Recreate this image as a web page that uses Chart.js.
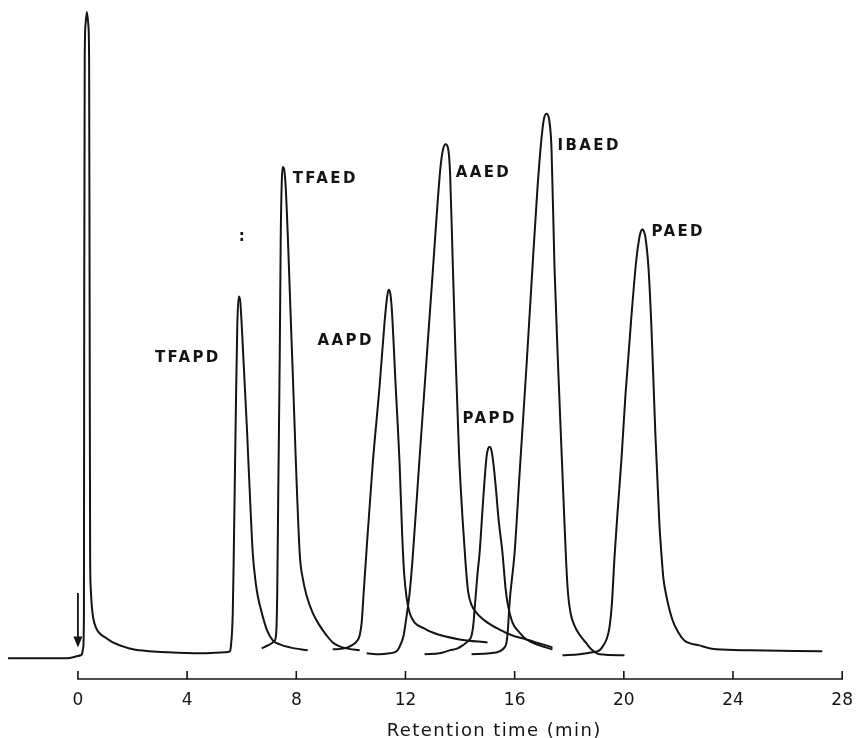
<!DOCTYPE html>
<html>
<head>
<meta charset="utf-8">
<title>Chromatogram</title>
<script src="https://cdn.jsdelivr.net/npm/chart.js@4.4.1/dist/chart.umd.min.js"></script>
<style>
  html, body { margin: 0; padding: 0; background: #fff; }
  #wrap { width: 856px; height: 738px; }
</style>
</head>
<body>
<div id="wrap"><canvas id="chromChart" width="856" height="738"></canvas></div>
<script>
// retention time axis (min)
const tickValues = [0, 4, 8, 12, 16, 20, 24, 28];
const peakNames = ['TFAPD', 'TFAED', 'AAPD', 'AAED', 'PAPD', 'IBAED', 'PAED'];

// recorder traces: [time (min), response (arb. units)]
const traceSolventTFAPD = [
  [-2.56, 2.1], [-1.39, 2.1], [-0.40, 2.1], [-0.04, 2.3], [0.10, 2.4], [0.146, 2.5],
  [0.194, 3.2], [0.220, 6.7], [0.231, 38.7], [0.249, 62.7], [0.278, 66.2], [0.329, 67.5],
  [0.381, 66.2], [0.410, 62.7], [0.428, 38.7], [0.447, 12.7], [0.469, 9.2], [0.505, 7.5],
  [0.559, 6.2], [0.659, 5.2], [0.805, 4.6], [1.061, 4.1], [1.281, 3.7], [1.647, 3.3],
  [2.013, 3.0], [2.635, 2.8], [3.258, 2.7], [4.466, 2.6], [5.381, 2.7], [5.564, 2.8],
  [5.600, 3.2], [5.673, 6.7], [5.710, 12.7], [5.783, 26.7], [5.838, 35.7], [5.893, 38.7],
  [5.948, 38.2], [6.003, 35.7], [6.186, 25.7], [6.332, 16.7], [6.406, 12.7], [6.515, 9.7],
  [6.589, 8.4], [6.735, 6.7], [6.918, 5.0], [7.138, 3.9], [7.394, 3.5], [7.760, 3.2],
  [8.419, 2.9]
];
const traceTFAED = [
  [6.735, 3.1], [6.955, 3.4], [7.138, 3.7], [7.211, 3.9], [7.266, 4.7], [7.302, 8.7],
  [7.339, 18.7], [7.394, 32.7], [7.430, 44.7], [7.467, 50.2], [7.504, 51.8], [7.559, 51.5],
  [7.614, 49.7], [7.833, 33.8], [8.126, 12.7], [8.236, 10.2], [8.382, 8.4], [8.602, 6.7],
  [8.858, 5.4], [9.114, 4.4], [9.334, 3.7], [9.590, 3.3], [9.846, 3.1], [10.322, 2.9]
];
const traceAAPD = [
  [9.334, 3.0], [9.773, 3.1], [10.029, 3.4], [10.212, 3.8], [10.322, 4.4], [10.395, 5.7],
  [10.468, 8.7], [10.578, 13.2], [10.798, 21.7], [11.054, 29.7], [11.237, 36.2], [11.329, 38.7],
  [11.384, 39.4], [11.439, 39.1], [11.493, 37.7], [11.640, 29.7], [11.786, 21.7], [11.878, 14.7],
  [11.951, 10.7], [12.043, 8.2], [12.152, 6.7], [12.335, 5.7], [12.701, 5.1], [12.994, 4.7],
  [13.982, 4.0], [15.007, 3.7]
];
const traceAAED = [
  [10.578, 2.6], [11.054, 2.5], [11.420, 2.6], [11.676, 2.8], [11.823, 3.5], [11.932, 4.4],
  [12.006, 5.7], [12.152, 8.7], [12.262, 12.2], [12.500, 21.7], [12.756, 31.7], [13.013, 41.7],
  [13.177, 48.2], [13.287, 51.9], [13.378, 53.6], [13.470, 54.1], [13.561, 53.7], [13.635, 51.2],
  [13.726, 42.7], [13.836, 32.7], [13.964, 22.7], [14.092, 16.2], [14.202, 11.7], [14.293, 8.9],
  [14.422, 7.5], [14.605, 6.7], [15.007, 5.7], [15.447, 5.0], [15.922, 4.4], [16.435, 4.0],
  [16.911, 3.6], [17.387, 3.2]
];
const tracePAPD = [
  [12.701, 2.5], [13.250, 2.6], [13.616, 2.9], [13.909, 3.1], [14.092, 3.4], [14.275, 3.8],
  [14.422, 4.4], [14.495, 5.7], [14.531, 7.0], [14.641, 10.7], [14.714, 12.7], [14.861, 18.7],
  [14.971, 22.5], [15.026, 23.3], [15.081, 23.5], [15.135, 23.3], [15.190, 22.5], [15.300, 19.7],
  [15.410, 16.2], [15.556, 12.7], [15.666, 9.2], [15.739, 7.7], [15.922, 5.7], [16.179, 4.7],
  [16.435, 4.0], [16.911, 3.4], [17.387, 3.0]
];
const traceIBAED = [
  [14.422, 2.5], [15.081, 2.6], [15.447, 2.8], [15.630, 3.2], [15.703, 3.7], [15.758, 5.2],
  [15.813, 7.7], [15.996, 12.7], [16.179, 20.7], [16.435, 31.7], [16.654, 41.7], [16.837, 49.7],
  [16.984, 54.7], [17.075, 56.7], [17.167, 57.2], [17.258, 56.7], [17.350, 53.7], [17.460, 41.7],
  [17.606, 30.7], [17.753, 20.7], [17.881, 12.2], [17.954, 8.7], [18.046, 6.7], [18.192, 5.4],
  [18.375, 4.5], [18.631, 3.6], [18.851, 2.9], [19.107, 2.5], [20.022, 2.4]
];
const tracePAED = [
  [17.753, 2.4], [18.375, 2.5], [18.851, 2.7], [19.107, 2.9], [19.253, 3.4], [19.363, 4.0],
  [19.473, 5.2], [19.565, 7.7], [19.656, 12.2], [19.766, 16.7], [19.912, 22.2], [20.059, 28.7],
  [20.278, 36.7], [20.461, 42.5], [20.571, 44.7], [20.626, 45.3], [20.681, 45.5], [20.736, 45.3],
  [20.791, 44.7], [20.901, 41.7], [21.010, 35.7], [21.157, 24.7], [21.303, 15.7], [21.376, 12.7],
  [21.449, 10.2], [21.559, 8.4], [21.779, 6.0], [21.998, 4.7], [22.218, 3.9], [22.767, 3.4],
  [23.389, 3.0], [24.597, 2.9], [27.269, 2.8]
];

const ink = '#141414';

// where each peak name sits (left edge, middle), in axis units
const labelSpots = [[2.82, 32.5], [7.87, 50.6], [8.78, 34.2], [13.84, 51.2], [14.09, 26.3], [17.57, 53.9], [21.01, 45.2]];

const recorderMarks = {
  id: 'recorderMarks',
  afterDraw(chart) {
    const { ctx, chartArea, scales: { x, y } } = chart;
    const base = chartArea.bottom;
    ctx.save();
    ctx.strokeStyle = ink;
    ctx.fillStyle = ink;

    // time axis with upward ticks
    ctx.lineWidth = 1.6;
    ctx.beginPath();
    ctx.moveTo(x.getPixelForValue(tickValues[0]), base);
    ctx.lineTo(x.getPixelForValue(tickValues[tickValues.length - 1]), base);
    tickValues.forEach(v => {
      const px = x.getPixelForValue(v);
      ctx.moveTo(px, base + 0.8);
      ctx.lineTo(px, base - 8);
    });
    ctx.stroke();

    // injection arrow at t = 0
    const ax = x.getPixelForValue(0);
    const aTop = y.getPixelForValue(8.7);
    const aTip = y.getPixelForValue(3.2);
    ctx.lineWidth = 1.8;
    ctx.beginPath();
    ctx.moveTo(ax, aTop);
    ctx.lineTo(ax, aTip - 8);
    ctx.stroke();
    ctx.beginPath();
    ctx.moveTo(ax - 4.5, aTip - 11);
    ctx.lineTo(ax + 4.5, aTip - 11);
    ctx.lineTo(ax, aTip);
    ctx.closePath();
    ctx.fill();

    // peak names
    ctx.font = 'bold 15px "DejaVu Sans"';
    ctx.letterSpacing = '2.4px';
    ctx.textAlign = 'left';
    ctx.textBaseline = 'middle';
    labelSpots.forEach((p, i) => {
      ctx.fillText(peakNames[i], x.getPixelForValue(p[0]), y.getPixelForValue(p[1]));
    });

    // stray mark above TFAPD
    ctx.letterSpacing = '0px';
    ctx.textAlign = 'center';
    ctx.fillText(':', x.getPixelForValue(6.0), y.getPixelForValue(44.7));

    // axis title
    ctx.font = '18px "DejaVu Sans"';
    ctx.letterSpacing = '1.4px';
    ctx.textAlign = 'center';
    ctx.textBaseline = 'alphabetic';
    ctx.fillText('Retention time (min)', x.getPixelForValue(15.25), 735.5);
    ctx.restore();
  }
};

const traces = [traceSolventTFAPD, traceTFAED, traceAAPD, traceAAED, tracePAPD, traceIBAED, tracePAED];

new Chart(document.getElementById('chromChart'), {
  type: 'line',
  data: {
    datasets: traces.map((t, i) => ({
      label: i === 0 ? 'solvent + ' + peakNames[0] : peakNames[i],
      data: t,
      borderColor: ink,
      borderWidth: 2,
      pointRadius: 0,
      fill: false,
      cubicInterpolationMode: 'monotone'
    }))
  },
  options: {
    responsive: false,
    animation: false,
    events: [],
    layout: { padding: { left: 1.5, right: 13, top: 7, bottom: 24.6 } },
    plugins: {
      legend: { display: false },
      tooltip: { enabled: false }
    },
    scales: {
      x: {
        type: 'linear',
        min: -2.8,
        max: 28,
        afterBuildTicks: axis => { axis.ticks = tickValues.map(v => ({ value: v })); },
        grid: { display: false },
        border: { display: false },
        ticks: {
          color: ink,
          padding: 3,
          maxRotation: 0,
          font: { family: '"DejaVu Sans"', size: 17 }
        }
      },
      y: {
        type: 'linear',
        min: 0,
        max: 68,
        display: false
      }
    }
  },
  plugins: [recorderMarks]
});
</script>
</body>
</html>
